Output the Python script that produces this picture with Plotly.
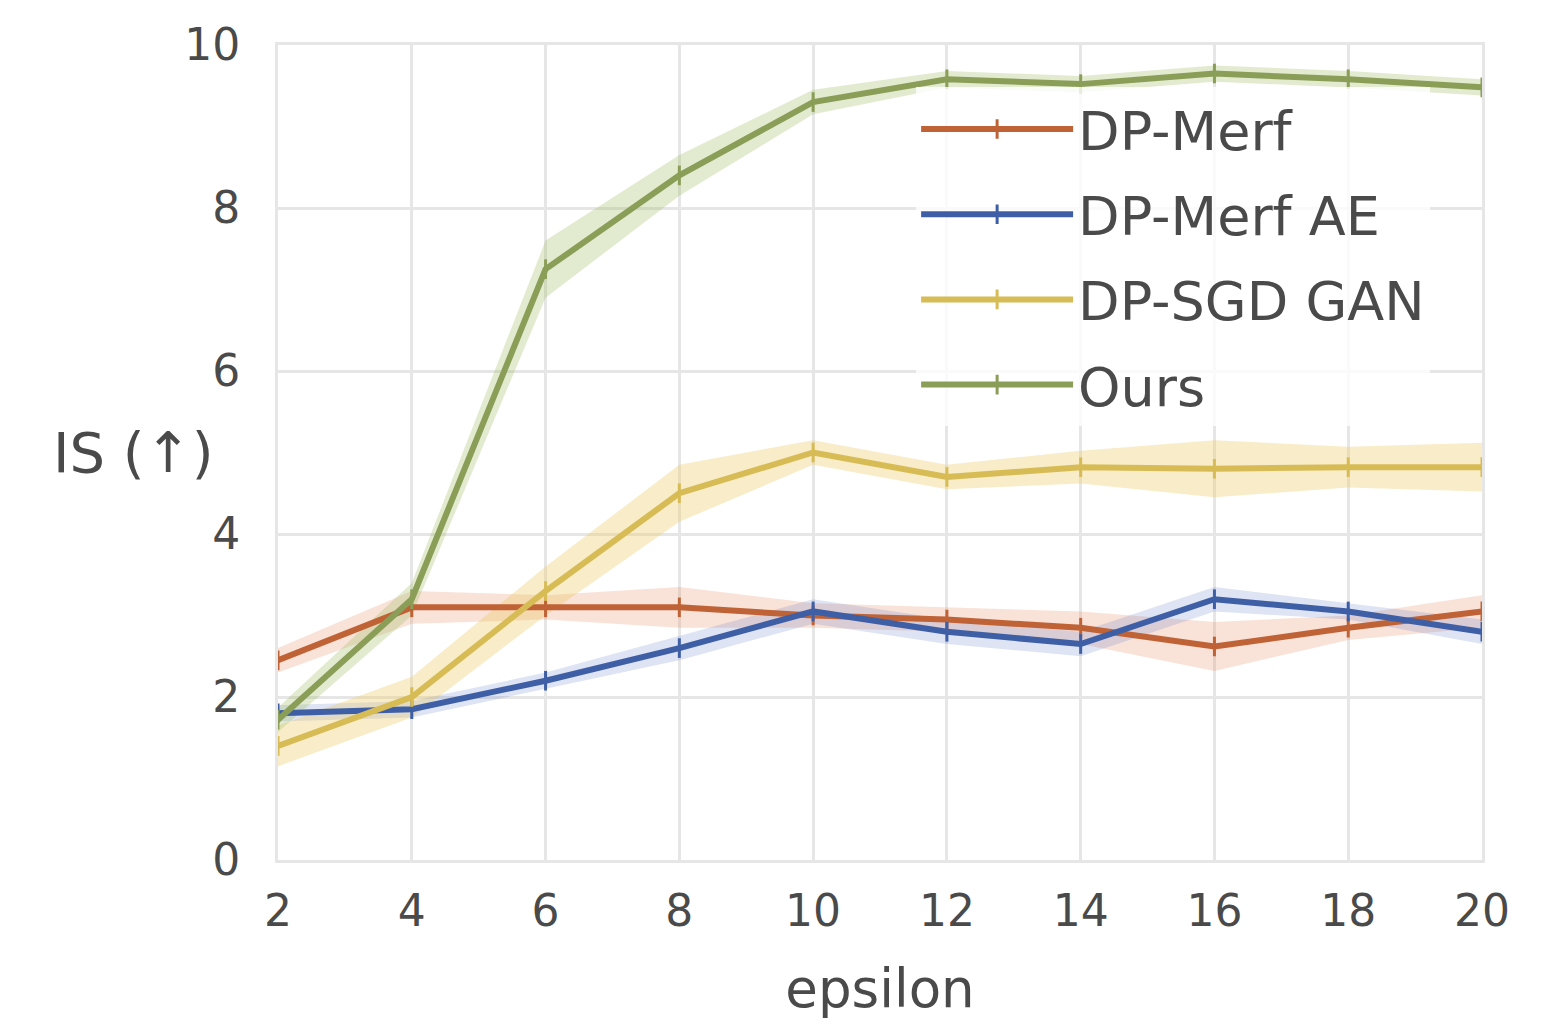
import plotly.graph_objects as go

epsilon = [2, 4, 6, 8, 10, 12, 14, 16, 18, 20]

dp_merf = [2.45, 3.1, 3.1, 3.1, 3.0, 2.95, 2.85, 2.62, 2.85, 3.05]
dp_merf_err = [0.15, 0.2, 0.15, 0.25, 0.15, 0.15, 0.2, 0.3, 0.15, 0.2]

dp_merf_ae = [1.8, 1.85, 2.2, 2.6, 3.05, 2.8, 2.65, 3.2, 3.05, 2.8]
dp_merf_ae_err = [0.1, 0.1, 0.1, 0.15, 0.15, 0.15, 0.15, 0.15, 0.1, 0.15]

dp_sgd_gan = [1.4, 2.0, 3.3, 4.5, 5.0, 4.7, 4.82, 4.8, 4.82, 4.82]
dp_sgd_gan_err = [0.25, 0.25, 0.3, 0.35, 0.15, 0.15, 0.2, 0.35, 0.25, 0.3]

ours = [1.72, 3.2, 7.25, 8.4, 9.3, 9.58, 9.52, 9.65, 9.58, 9.48]
ours_err = [0.15, 0.2, 0.35, 0.25, 0.15, 0.1, 0.1, 0.1, 0.1, 0.1]

names = ["DP-Merf", "DP-Merf AE", "DP-SGD GAN", "Ours"]
colors = ["#BF6236", "#3E5FA6", "#D7BC56", "#8A9E58"]
band_colors = ["rgba(230,140,100,0.25)", "rgba(90,120,200,0.2)",
               "rgba(235,200,100,0.35)", "rgba(160,190,100,0.3)"]

series = [dp_merf, dp_merf_ae, dp_sgd_gan, ours]
errors = [dp_merf_err, dp_merf_ae_err, dp_sgd_gan_err, ours_err]

fig = go.Figure()
for i, (name, ys, es) in enumerate(zip(names, series, errors)):
    upper = [y + e for y, e in zip(ys, es)]
    lower = [y - e for y, e in zip(ys, es)]
    fig.add_trace(go.Scatter(
        x=epsilon + epsilon[::-1], y=upper + lower[::-1],
        fill="toself", fillcolor=band_colors[i], line=dict(width=0),
        mode="lines", showlegend=False, hoverinfo="skip",
        legendgroup=name,
    ))
for i, (name, ys) in enumerate(zip(names, series)):
    fig.add_trace(go.Scatter(
        x=epsilon, y=ys, name=name, mode="lines+markers",
        line=dict(color=colors[i], width=6),
        marker=dict(symbol="line-ns", size=14, line=dict(color=colors[i], width=3)),
        legendgroup=name,
    ))

font_color = "#4a4a4a"
fig.update_layout(
    width=1568, height=1023,
    paper_bgcolor="white", plot_bgcolor="white",
    margin=dict(l=270, r=94, t=37, b=171),
    font=dict(family="DejaVu Sans", color=font_color, size=44),
    xaxis=dict(
        range=[2, 20], tickvals=epsilon, ticktext=[str(v) for v in epsilon],
        showgrid=True, gridcolor="#E6E6E6", gridwidth=3,
        zeroline=False, showline=True, linecolor="#E6E6E6", linewidth=3, mirror=True,
        ticks="", ticklabelstandoff=10,
        tickfont=dict(size=44, color=font_color),
        title=dict(text="epsilon", font=dict(size=53, color=font_color), standoff=36),
    ),
    yaxis=dict(
        range=[0, 10], tickvals=[0, 2, 4, 6, 8, 10],
        showgrid=True, gridcolor="#E6E6E6", gridwidth=3,
        zeroline=False, showline=True, linecolor="#E6E6E6", linewidth=3, mirror=True,
        ticks="", ticklabelstandoff=26,
        tickfont=dict(size=44, color=font_color),
    ),
    legend=dict(
        x=0.530, y=0.948, xanchor="left", yanchor="top",
        bgcolor="rgba(255,255,255,0.8)", borderwidth=0,
        font=dict(size=54, color=font_color),
        itemwidth=152, tracegroupgap=12, traceorder="grouped",
    ),
    annotations=[dict(
        text="IS (↑)", xref="paper", yref="paper", x=-0.052, y=0.5,
        xanchor="right", yanchor="middle", showarrow=False,
        font=dict(size=56, color=font_color),
    )],
)

fig.write_html("out.html")
